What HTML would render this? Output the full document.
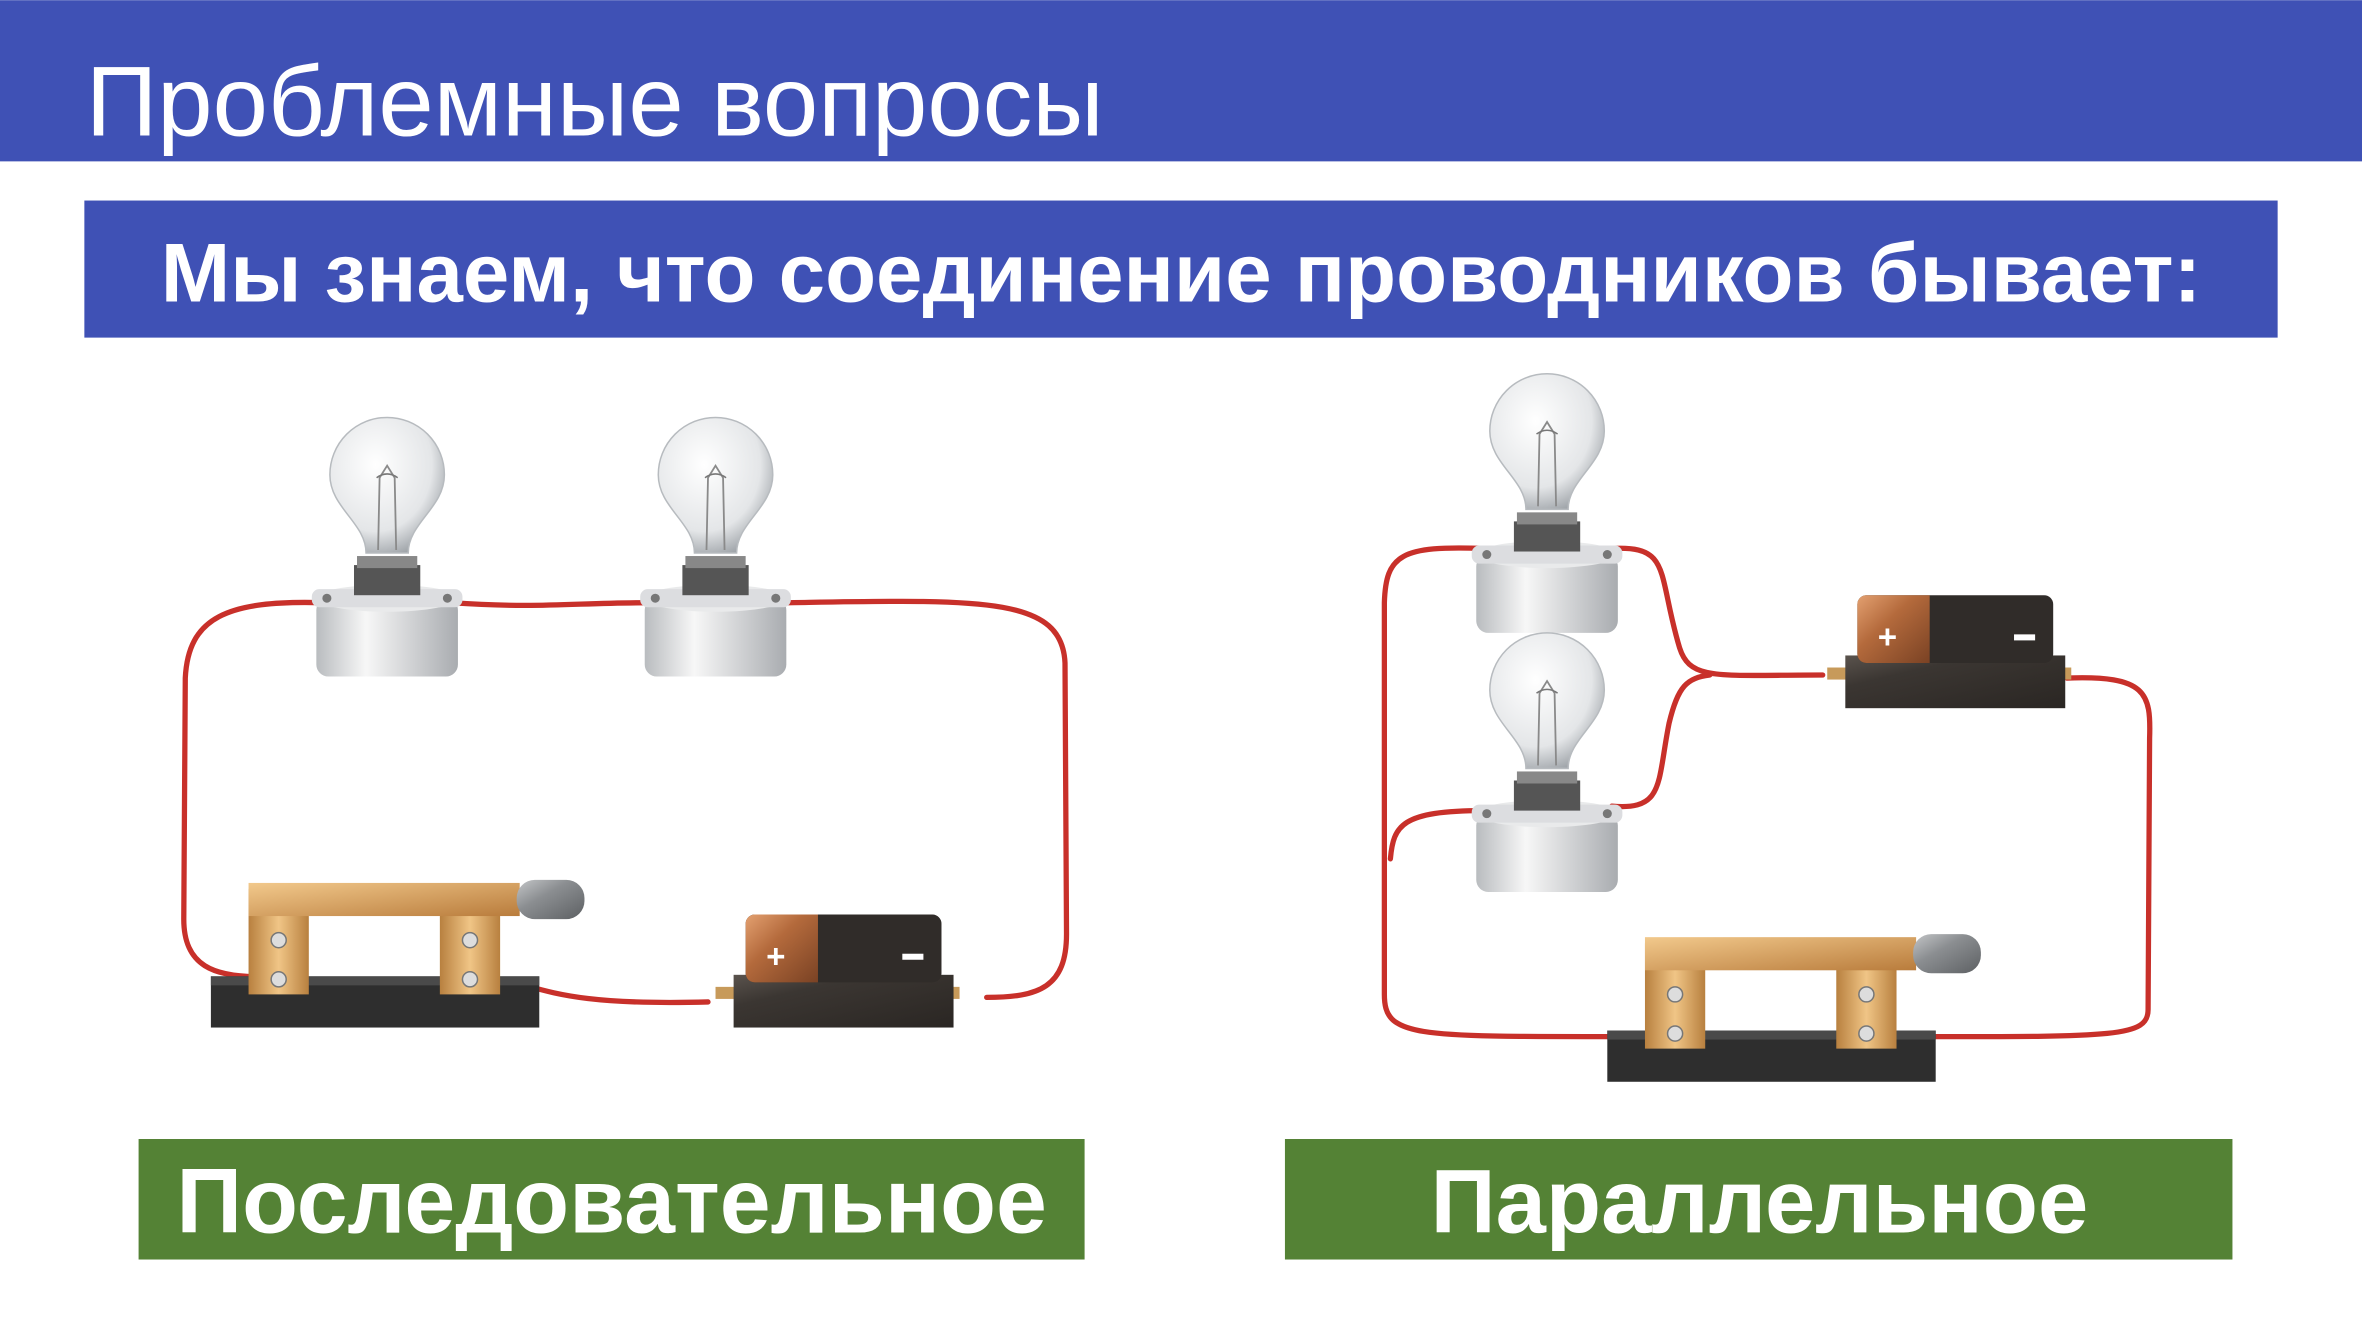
<!DOCTYPE html>
<html><head><meta charset="utf-8"><style>
html,body{margin:0;padding:0;background:#fff;width:2362px;height:1329px;overflow:hidden}
svg{display:block}
</style></head><body>
<svg width="2362" height="1329" viewBox="0 0 1568 882" xmlns="http://www.w3.org/2000/svg">
<defs>
<radialGradient id="glass" cx="0.4" cy="0.35" r="0.7"><stop offset="0" stop-color="#ffffff"/><stop offset="0.7" stop-color="#e4e6e8"/><stop offset="1" stop-color="#9ea3a8"/></radialGradient>
<linearGradient id="cyl" x1="0" x2="1"><stop offset="0" stop-color="#b9bcbf"/><stop offset="0.35" stop-color="#f7f7f7"/><stop offset="1" stop-color="#a9acb0"/></linearGradient>
<linearGradient id="gold" x1="0" x2="1"><stop offset="0" stop-color="#b8803f"/><stop offset="0.5" stop-color="#f0c586"/><stop offset="1" stop-color="#b8803f"/></linearGradient>
<linearGradient id="bar" y1="0" y2="1"><stop offset="0" stop-color="#f2c98c"/><stop offset="1" stop-color="#b97c3c"/></linearGradient>
<linearGradient id="bat" y1="0" y2="1"><stop offset="0" stop-color="#5a534d"/><stop offset="0.3" stop-color="#3b3632"/><stop offset="1" stop-color="#2a2623"/></linearGradient>
<linearGradient id="cop" y1="0" y2="1"><stop offset="0" stop-color="#e3a070"/><stop offset="0.4" stop-color="#b46a3c"/><stop offset="1" stop-color="#7a4224"/></linearGradient>
<linearGradient id="handle" y1="0" y2="1"><stop offset="0" stop-color="#c4c6c8"/><stop offset="0.4" stop-color="#8b8e91"/><stop offset="1" stop-color="#5d6063"/></linearGradient>
<g id="bulb">
<rect x="-47" y="110" width="94" height="52" rx="8" fill="url(#cyl)"/>
<ellipse cx="0" cy="110" rx="47" ry="9" fill="#e9eaeb"/>
<rect x="-50" y="104" width="100" height="12" rx="5" fill="#dcdde0"/>
<circle cx="-40" cy="110" r="3" fill="#777"/><circle cx="40" cy="110" r="3" fill="#777"/>
<rect x="-22" y="88" width="44" height="20" fill="#555"/>
<rect x="-20" y="82" width="40" height="8" fill="#888"/>
<path d="M-14 80 C-14 60 -38 50 -38 28 A38 38 0 0 1 38 28 C38 50 14 60 14 80 Z" fill="url(#glass)" stroke="#b7bbbf" stroke-width="1"/>
<path d="M-6 78 L-5 30 L0 22 L5 30 L6 78" fill="none" stroke="#8a8a8a" stroke-width="1.2"/>
<path d="M-7 30 Q0 25 7 30" fill="none" stroke="#777" stroke-width="1"/>
</g>
<g id="battery">
<rect x="-12" y="48" width="14" height="8" fill="#c79a5a"/>
<rect x="136" y="48" width="14" height="8" fill="#c79a5a"/>
<rect x="0" y="40" width="146" height="35" fill="url(#bat)"/>
<rect x="8" y="0" width="130" height="45" rx="6" fill="#302c29"/>
<path d="M14 0 H56 V45 H14 a6 6 0 0 1 -6 -6 V6 a6 6 0 0 1 6 -6Z" fill="url(#cop)"/>
<text x="28" y="35" fill="#fff" font-family="Liberation Sans,sans-serif" font-weight="bold" font-size="22" text-anchor="middle">+</text>
<rect x="112" y="26" width="14" height="4" fill="#fff"/>
</g>
<g id="switch">
<rect x="0" y="64" width="218" height="34" fill="#2e2e2e"/>
<rect x="0" y="64" width="218" height="6" fill="#4a4a4a"/>
<rect x="25" y="6" width="40" height="70" fill="url(#gold)"/>
<rect x="152" y="6" width="40" height="70" fill="url(#gold)"/>
<rect x="25" y="2" width="180" height="22" fill="url(#bar)"/>
<rect x="203" y="0" width="45" height="26" rx="12" fill="url(#handle)"/>
<circle cx="45" cy="40" r="5" fill="#ddd" stroke="#777"/><circle cx="45" cy="66" r="5" fill="#ddd" stroke="#777"/>
<circle cx="172" cy="40" r="5" fill="#ddd" stroke="#777"/><circle cx="172" cy="66" r="5" fill="#ddd" stroke="#777"/>
</g>
</defs>

<rect x="0" y="0" width="1568" height="107" fill="#3f51b5"/>
<text x="57" y="90" fill="#fff" font-family="Liberation Sans,sans-serif" font-size="66">Проблемные вопросы</text>
<rect x="56" y="133" width="1456" height="91" fill="#3f51b5"/>
<text x="784" y="200" fill="#fff" font-family="Liberation Sans,sans-serif" font-weight="bold" font-size="55.4" text-anchor="middle">Мы знаем, что соединение проводников бывает:</text>

<g fill="none" stroke="#c8302a" stroke-width="3.5" stroke-linecap="round">
<path d="M215 400 C150 398 125 410 123 450 L122 610 C122 640 140 650 180 648"/>
<path d="M300 400 C360 404 380 400 430 400"/>
<path d="M520 400 C650 398 705 395 707 440 L708 620 C708 655 690 662 655 662"/>
<path d="M318 648 C360 652 360 668 470 665"/>
<path d="M985 364 C930 362 920 368 919 400 L919 660 C919 690 940 688 1100 688"/>
<path d="M985 538 C930 538 925 548 923 570"/>
<path d="M1070 364 C1110 362 1100 380 1115 430 C1122 452 1140 448 1210 448"/>
<path d="M1070 535 C1105 538 1100 520 1108 480 C1114 455 1120 450 1135 448"/>
<path d="M1372 450 C1425 448 1428 460 1427 490 L1426 670 C1426 690 1400 688 1232 688"/>
</g>

<use href="#bulb" x="257" y="287"/>
<use href="#bulb" x="475" y="287"/>
<use href="#bulb" x="1027" y="258"/>
<use href="#bulb" x="1027" y="430"/>
<use href="#battery" x="487" y="607"/>
<use href="#battery" x="1225" y="395"/>
<use href="#switch" x="140" y="584"/>
<use href="#switch" x="1067" y="620"/>

<rect x="92" y="756" width="628" height="80" fill="#548235"/>
<text x="406" y="818" fill="#fff" font-family="Liberation Sans,sans-serif" font-weight="bold" font-size="60.7" text-anchor="middle">Последовательное</text>
<rect x="853" y="756" width="629" height="80" fill="#548235"/>
<text x="1168" y="818" fill="#fff" font-family="Liberation Sans,sans-serif" font-weight="bold" font-size="60" text-anchor="middle">Параллельное</text>
</svg>
</body></html>
